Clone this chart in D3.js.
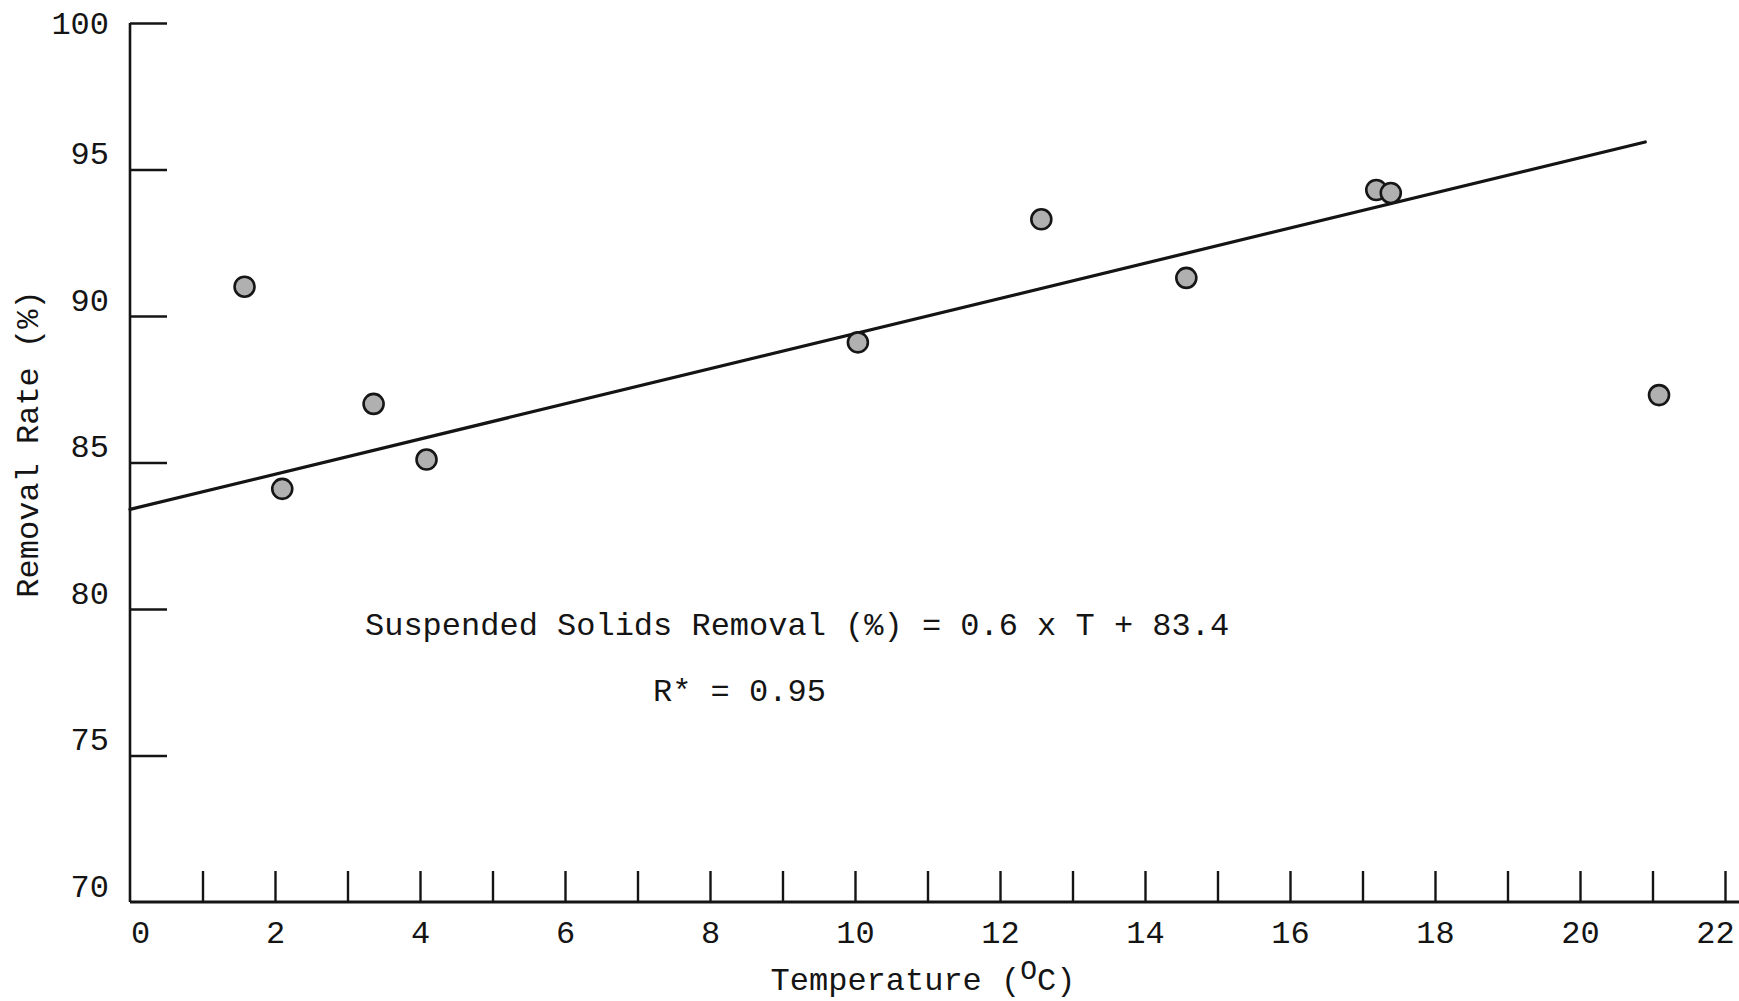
<!DOCTYPE html>
<html>
<head>
<meta charset="utf-8">
<script src="https://cdn.jsdelivr.net/npm/d3@7"></script>
<style>
  html, body { margin: 0; padding: 0; background: #fff; }
  svg text { font-family: "Liberation Mono", "DejaVu Sans Mono", monospace; fill: #141414; }
</style>
</head>
<body>
<svg id="chart" width="1739" height="1001"></svg>
<script>
// Observed suspended solids removal against water temperature
const temperature = [1.58, 2.10, 3.36, 4.09, 10.04, 12.57, 14.57, 17.19, 17.39, 21.09];
const removalRate = [91.0, 84.1, 87.0, 85.1, 89.1, 93.3, 91.3, 94.3, 94.2, 87.3];

// Fitted regression: removal = slope * T + intercept
const fitSlope = 0.6;
const fitIntercept = 83.4;
const fitRange = [0, 20.9];

// Axis ticks and labels
const xMinorTicks = d3.range(1, 23);
const xLabelTicks = [0, 2, 4, 6, 8, 10, 12, 14, 16, 18, 20, 22];
const yTicks = [70, 75, 80, 85, 90, 95, 100];

const equationText = "Suspended Solids Removal (%) = 0.6 x T + 83.4";
const rText = "R* = 0.95";

const svg = d3.select("#chart");
const W = 1739;

const x = d3.scaleLinear().domain([0, 22]).range([130, 1725]);
const y = d3.scaleLinear().domain([70, 100]).range([902, 23]);

const ink = "#141414";

// Y axis: ticks point inward, labels sit to the left
const yAxis = svg.append("g")
  .attr("transform", `translate(${x(0)},0)`)
  .call(d3.axisLeft(y).tickValues(yTicks).tickSize(-37).tickPadding(21).tickFormat(d3.format("d")));
yAxis.select(".domain").remove();
yAxis.selectAll(".tick line").attr("stroke", ink).attr("stroke-width", 2.4);
yAxis.selectAll(".tick text")
  .attr("font-size", 32)
  .attr("dy", d => d === 100 ? "0.32em" : "-0.18em");
// The 70 tick coincides with the x axis
yAxis.selectAll(".tick").filter(d => d === 70).select("line").remove();

svg.append("line")
  .attr("x1", x(0)).attr("x2", x(0))
  .attr("y1", y(100)).attr("y2", y(70))
  .attr("stroke", ink).attr("stroke-width", 2.6);

// X axis: short upward ticks at every degree
const xAxisTicks = svg.append("g")
  .attr("transform", `translate(0,${y(70)})`)
  .call(d3.axisBottom(x).tickValues(xMinorTicks).tickSize(-31).tickFormat(""));
xAxisTicks.select(".domain").remove();
xAxisTicks.selectAll(".tick line").attr("stroke", ink).attr("stroke-width", 2.4);

const xAxisLabels = svg.append("g")
  .attr("transform", `translate(0,${y(70)})`)
  .call(d3.axisBottom(x).tickValues(xLabelTicks).tickSize(0).tickPadding(18).tickFormat(d3.format("d")));
xAxisLabels.select(".domain").remove();
xAxisLabels.selectAll(".tick text")
  .attr("font-size", 32)
  .attr("dx", d => d === 0 ? 10 : (d === 22 ? -10 : 0));

svg.append("line")
  .attr("x1", x(0)).attr("x2", W)
  .attr("y1", y(70)).attr("y2", y(70))
  .attr("stroke", ink).attr("stroke-width", 2.8);

// Regression line
const fitLine = d3.line().x(d => x(d)).y(d => y(fitSlope * d + fitIntercept));
svg.append("path")
  .datum(fitRange)
  .attr("d", fitLine)
  .attr("fill", "none")
  .attr("stroke", ink)
  .attr("stroke-width", 3.2)
  .attr("stroke-linecap", "round");

// Observations
svg.append("g")
  .selectAll("circle")
  .data(temperature.map((t, i) => ({ t, r: removalRate[i] })))
  .join("circle")
  .attr("cx", d => x(d.t))
  .attr("cy", d => y(d.r))
  .attr("r", 10)
  .attr("fill", "#b0b0b0")
  .attr("stroke", "#161616")
  .attr("stroke-width", 2.6);

// Equation and fit statistic
svg.append("text")
  .attr("x", 365).attr("y", 624)
  .attr("dy", "0.35em")
  .attr("font-size", 32)
  .text(equationText);

svg.append("text")
  .attr("x", 653).attr("y", 690)
  .attr("dy", "0.35em")
  .attr("font-size", 32)
  .text(rText);

// Axis titles
const xTitle = svg.append("text")
  .attr("x", 923).attr("y", 979)
  .attr("dy", "0.35em")
  .attr("text-anchor", "middle")
  .attr("font-size", 32);
xTitle.append("tspan").text("Temperature (");
xTitle.append("tspan").attr("dy", -11).attr("font-size", 28).text("O");
xTitle.append("tspan").attr("dy", 11).text("C)");

svg.append("text")
  .attr("transform", "translate(27,444) rotate(-90)")
  .attr("dy", "0.35em")
  .attr("text-anchor", "middle")
  .attr("font-size", 32)
  .text("Removal Rate (%)");
</script>
</body>
</html>
